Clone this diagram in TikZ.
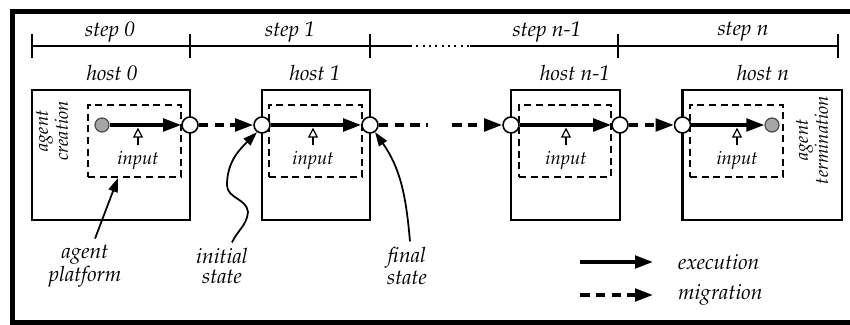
\documentclass[tikz,border=0pt]{standalone}
\usepackage[T1]{fontenc}
\usepackage{mathpazo}
\usetikzlibrary{arrows.meta}

\begin{document}
\begin{tikzpicture}[
    host/.style={draw=black, line width=1.2pt, minimum height=2.6cm, inner sep=0pt},
    platform/.style={draw=black, line width=0.9pt, dash pattern=on 4pt off 2.6pt, minimum width=1.86cm, minimum height=1.44cm, inner sep=0pt},
    state/.style={circle, draw=black, line width=0.9pt, fill=white, minimum size=0.32cm, inner sep=0pt},
    agent/.style={circle, draw=black!70, line width=0.7pt, fill=black!35, minimum size=0.28cm, inner sep=0pt},
    exec/.style={-{Triangle[length=0.36cm, width=0.25cm]}, line width=2pt},
    migr/.style={exec, dash pattern=on 5.5pt off 3.5pt},
    feed/.style={-{Triangle[open, length=0.2cm, width=0.2cm]}, line width=0.7pt},
    call/.style={-{Triangle[length=0.28cm, width=0.19cm]}, line width=1pt},
    small/.style={font=\itshape\fontsize{10.5}{10}\selectfont},
    font=\itshape\fontsize{12}{11}\selectfont
]
    \useasboundingbox (0,0) rectangle (17,6.5);
    \draw[line width=2.8pt] (17,6.27) -- (0.25,6.27) -- (0.25,0.05) -- (17,0.05);

    %Time line
    \coordinate (t0) at (0.64,5.58);
    \coordinate (t1) at (3.8,5.58);
    \coordinate (t2) at (7.4,5.58);
    \coordinate (t3) at (12.36,5.58);
    \coordinate (t4) at (16.76,5.58);
    \coordinate (g0) at (8.2,5.58);
    \coordinate (g1) at (9.4,5.58);
    \draw[line width=0.9pt] (t0) -- (g0);
    \draw[line width=1pt, dash pattern=on 1.2pt off 2.4pt] (g0) -- (g1);
    \draw[line width=0.9pt] (g1) -- (t4);
    \foreach \t in {t0,t1,t2,t3,t4}
        \draw[line width=0.9pt] (\t) ++(0,0.24) -- ++(0,-0.48);

    \node[] at (2.2, 5.86) (s0) {step 0};
    \node[] at (5.8, 5.86) (s1) {step 1};
    \node[] at (10.94, 5.86) (sm) {step n-1};
    \node[] at (14.86, 5.86) (sn) {step n};

    %Hosts
    \node[host, minimum width=3.16cm] at (2.22, 3.4) (h0) {};
    \node[host, minimum width=2.16cm] at (6.32, 3.4) (h1) {};
    \node[host, minimum width=2.18cm] at (11.31, 3.4) (hm) {};
    \node[host, minimum width=3.19cm] at (15.245, 3.4) (hn) {};

    \node[] at (2.24, 5.04) (l0) {host 0};
    \node[] at (6.3, 5.04) (l1) {host 1};
    \node[] at (11.5, 5.04) (lm) {host n-1};
    \node[] at (15.26, 5.04) (ln) {host n};

    \node[platform] at (2.69, 3.68) (d0) {};
    \node[platform] at (6.31, 3.68) (d1) {};
    \node[platform, minimum width=1.84cm] at (11.3, 3.68) (dm) {};
    \node[platform] at (14.73, 3.68) (dn) {};

    \node[small, rotate=90, align=center] at (1.04, 3.88) (creation) {agent\\creation};
    \node[small, rotate=90, align=center] at (16.24, 3.7) (termination) {agent\\termination};

    %States
    \node[agent] at (2.04, 4) (a0) {};
    \node[state] at (3.8, 4) (o0) {};
    \node[state] at (5.24, 4) (i1) {};
    \node[state] at (7.4, 4) (o1) {};
    \node[state] at (10.22, 4) (im) {};
    \node[state] at (12.4, 4) (om) {};
    \node[state] at (13.65, 4) (in) {};
    \node[agent] at (15.44, 4) (an) {};
    \coordinate (gap0) at (8.56, 4);
    \coordinate (gap1) at (9.04, 4);

    %Lines
    \draw[exec] (a0) -- (o0);
    \draw[migr] (o0) -- (i1);
    \draw[exec] (i1) -- (o1);
    \draw[migr, -] (o1) -- (gap0);
    \draw[migr] (gap1) -- (im);
    \draw[exec] (im) -- (om);
    \draw[migr] (om) -- (in);
    \draw[exec] (in) -- (an);

    %Inputs
    \foreach \x/\n in {2.76/0, 6.26/1, 11.32/m, 14.74/n} {
        \node[small] at (\x, 3.3) (input\n) {input};
        \draw[feed] (input\n.north) -- ++(0,0.34);
    }

    %Labels
    \node[align=center] at (1.7, 1.18) (plat) {agent\\platform};
    \node[align=center] at (4.44, 1.18) (initial) {initial\\state};
    \node[align=center] at (8.14, 1.18) (final) {final\\state};
    \coordinate (p0) at (2.36, 2.94);

    \draw[call] ([xshift=0.2cm]plat.north) -- (p0);
    \draw[call] ([xshift=0.2cm]initial.north) to[out=65, in=-95] (4.96, 2.26)
        to[out=95, in=-90] (4.54, 2.8) to[out=90, in=225] (i1.235);
    \draw[call] ([xshift=0.06cm]final.north) to[out=95, in=-55] (o1.305);

    %Legend
    \node[anchor=west] at (13.44, 1.26) (execution) {execution};
    \node[anchor=west] at (13.44, 0.6) (migration) {migration};
    \coordinate (e0) at (11.6, 1.26);
    \coordinate (m0) at (11.6, 0.6);
    \draw[exec] (e0) -- ([xshift=-0.38cm]execution.west);
    \draw[migr] (m0) -- ([xshift=-0.38cm]migration.west);

\end{tikzpicture}
\end{document}
